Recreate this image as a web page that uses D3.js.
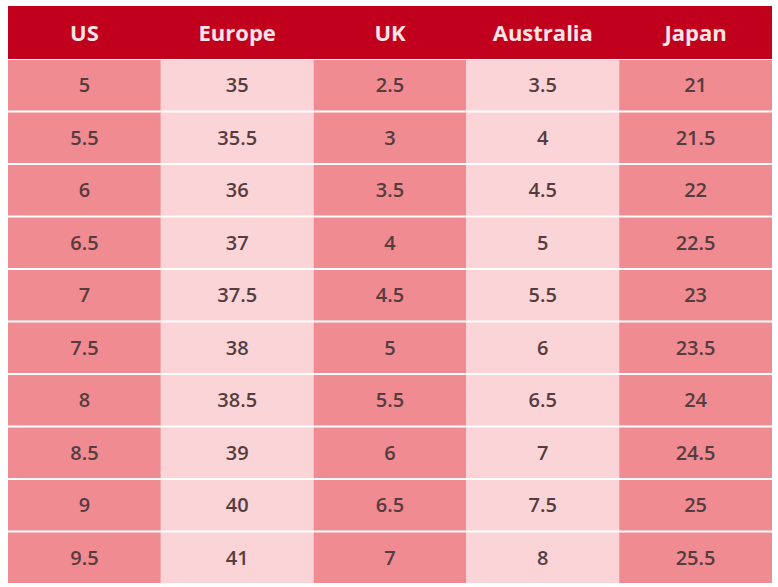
<!DOCTYPE html>
<html>
<head>
<meta charset="utf-8">
<script src="https://cdn.jsdelivr.net/npm/d3@7"></script>
<style>
  body { margin: 0; background: #fff; }
  text { font-family: "Open Sans", sans-serif; }
</style>
</head>
<body>
<div id="table"></div>
<script>
// data
var columns = ["US", "Europe", "UK", "Australia", "Japan"];
var us = [5, 5.5, 6, 6.5, 7, 7.5, 8, 8.5, 9, 9.5];
var europe = [35, 35.5, 36, 37, 37.5, 38, 38.5, 39, 40, 41];
var uk = [2.5, 3, 3.5, 4, 4.5, 5, 5.5, 6, 6.5, 7];
var australia = [3.5, 4, 4.5, 5, 5.5, 6, 6.5, 7, 7.5, 8];
var japan = [21, 21.5, 22, 22.5, 23, 23.5, 24, 24.5, 25, 25.5];
var series = [us, europe, uk, australia, japan];

var svgWidth = 778;
var svgHeight = 587;
var left = 8, right = 772, headTop = 6, headBottom = 59, bottom = 584;

var svg = d3.select("#table").append("svg")
  .attr("width", svgWidth)
  .attr("height", svgHeight);

var x = d3.scaleBand().domain(columns).range([left, right]);
var y = d3.scaleBand().domain(d3.range(us.length)).range([headBottom, bottom]);

// header
svg.append("rect")
  .attr("x", left).attr("y", headTop)
  .attr("width", right - left).attr("height", headBottom - headTop)
  .attr("fill", "#c1001e");

svg.selectAll(".head")
  .data(columns)
  .enter()
  .append("text")
  .attr("x", d => x(d) + x.bandwidth() / 2)
  .attr("y", (headTop + headBottom) / 2 + 8)
  .attr("text-anchor", "middle")
  .attr("font-size", "22px")
  .attr("font-weight", "bold")
  .attr("fill", "#fbe4e6")
  .text(d => d);

// cells
columns.forEach(function(col, ci) {
  var fill = ci % 2 === 0 ? "#f18b92" : "#fbd4d8";
  var g = svg.append("g");
  g.selectAll("rect")
    .data(series[ci])
    .enter()
    .append("rect")
    .attr("x", x(col))
    .attr("y", (d, i) => y(i) + 1)
    .attr("width", x.bandwidth())
    .attr("height", y.bandwidth() - 2)
    .attr("fill", fill);
  g.selectAll("text")
    .data(series[ci])
    .enter()
    .append("text")
    .attr("x", x(col) + x.bandwidth() / 2)
    .attr("y", (d, i) => y(i) + y.bandwidth() / 2 + 7)
    .attr("text-anchor", "middle")
    .attr("font-size", "20px")
    .attr("font-weight", "600")
    .attr("fill", "#553c3f")
    .text(d => d);
});
</script>
</body>
</html>
